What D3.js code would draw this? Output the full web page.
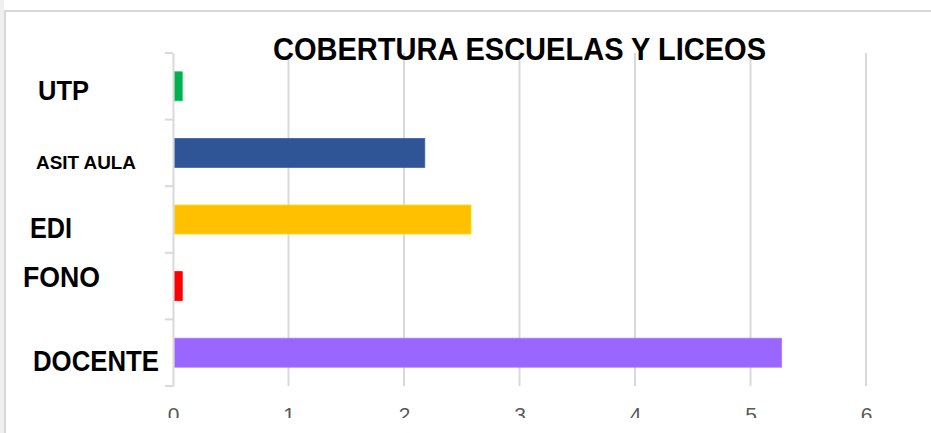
<!DOCTYPE html>
<html>
<head>
<meta charset="utf-8">
<script src="https://cdn.jsdelivr.net/npm/d3@7"></script>
<style>
  body { margin: 0; background: #fff; }
  svg { display: block; }
</style>
</head>
<body>
<svg width="931" height="433"></svg>
<script>
// data, top to bottom
const categories = ["UTP", "ASIT AULA", "EDI", "FONO", "DOCENTE"]
const values = [0.08, 2.18, 2.58, 0.08, 5.27]
const colors = ["#00b050", "#2f5597", "#ffc000", "#ff0000", "#9966ff"]
const xTicks = [0, 1, 2, 3, 4, 5, 6]
const title = "COBERTURA ESCUELAS Y LICEOS"

// label placement (rich text labels in the original are not aligned)
const labelStyle = {
  "UTP":       { x: 38, dy: 14,   size: 27, len: 51 },
  "ASIT AULA": { x: 36, dy: 16.5, size: 18, len: 100 },
  "EDI":       { x: 30, dy: 18,   size: 29, len: 42 },
  "FONO":      { x: 23, dy: 1,    size: 29, len: 77 },
  "DOCENTE":   { x: 33, dy: 18.5, size: 29, len: 126 }
}

const svg = d3.select("svg")
const W = +svg.attr("width"), H = +svg.attr("height")

// frame
svg.append("rect").attr("x", 0).attr("y", 0).attr("width", 4).attr("height", H).attr("fill", "#efefef")
svg.append("line").attr("x1", 5).attr("x2", 5).attr("y1", 10).attr("y2", H)
  .attr("stroke", "#d9d9d9").attr("stroke-width", 2)
svg.append("line").attr("x1", 4).attr("x2", W).attr("y1", 11).attr("y2", 11)
  .attr("stroke", "#d9d9d9").attr("stroke-width", 2)

const x = d3.scaleLinear().domain([0, 6]).range([173, 866])
const y = d3.scaleBand().domain(categories).range([53, 386]).paddingInner(0.565).paddingOuter(0.2825)
const yb = d3.scaleBand().domain(categories).range([53, 386])

// gridlines
svg.append("g").selectAll("line")
  .data(xTicks.slice(1))
  .enter().append("line")
  .attr("x1", d => x(d)).attr("x2", d => x(d))
  .attr("y1", 53).attr("y2", 386)
  .attr("stroke", "#d9d9d9").attr("stroke-width", 2)

// bars
svg.append("g").selectAll("rect")
  .data(categories)
  .enter().append("rect")
  .attr("x", x(0) + 1.5)
  .attr("y", d => y(d))
  .attr("width", (d, i) => x(values[i]) - x(0) - 1.5)
  .attr("height", y.bandwidth())
  .attr("fill", (d, i) => colors[i])
  .attr("stroke", (d, i) => d3.color(colors[i]).brighter(0.4))
  .attr("stroke-width", 0.8)

// category axis
const yAxis = svg.append("g")
  .attr("transform", "translate(173,0)")
  .call(d3.axisLeft(yb).tickValues([]).tickSizeOuter(0))
yAxis.select(".domain").attr("stroke", "#d9d9d9").attr("stroke-width", 2)
yAxis.selectAll(".tk").data(d3.range(categories.length + 1))
  .enter().append("line")
  .attr("x1", -8).attr("x2", 0)
  .attr("y1", i => 53 + i * yb.step()).attr("y2", i => 53 + i * yb.step())
  .attr("stroke", "#d9d9d9").attr("stroke-width", 2)

svg.append("g").selectAll("text")
  .data(categories)
  .enter().append("text")
  .attr("x", d => labelStyle[d].x)
  .attr("y", d => yb(d) + yb.bandwidth() / 2 + labelStyle[d].dy)
  .attr("font-family", "Liberation Sans, Arial, sans-serif")
  .attr("font-weight", "bold")
  .attr("font-size", d => labelStyle[d].size)
  .attr("textLength", d => labelStyle[d].len)
  .attr("lengthAdjust", "spacingAndGlyphs")
  .attr("fill", "#000")
  .text(d => d)

// value axis labels, cut off at the bottom like the original
svg.append("clipPath").attr("id", "cut")
  .append("rect").attr("x", 0).attr("y", 0).attr("width", W).attr("height", 418)
const xAxis = svg.append("g")
  .attr("clip-path", "url(#cut)")
  .append("g")
  .attr("transform", "translate(0,386)")
  .call(d3.axisBottom(x).tickValues(xTicks).tickFormat(d3.format("d")).tickSize(0).tickPadding(21))
xAxis.select(".domain").remove()
xAxis.selectAll("text")
  .attr("font-family", "Liberation Sans, Arial, sans-serif")
  .attr("font-size", 21)
  .attr("fill", "#595959")

// title
svg.append("text")
  .attr("x", 273).attr("y", 60)
  .attr("font-family", "Liberation Sans, Arial, sans-serif")
  .attr("font-weight", "bold")
  .attr("font-size", 32)
  .attr("textLength", 493)
  .attr("lengthAdjust", "spacingAndGlyphs")
  .attr("fill", "#000")
  .text(title)
</script>
</body>
</html>
